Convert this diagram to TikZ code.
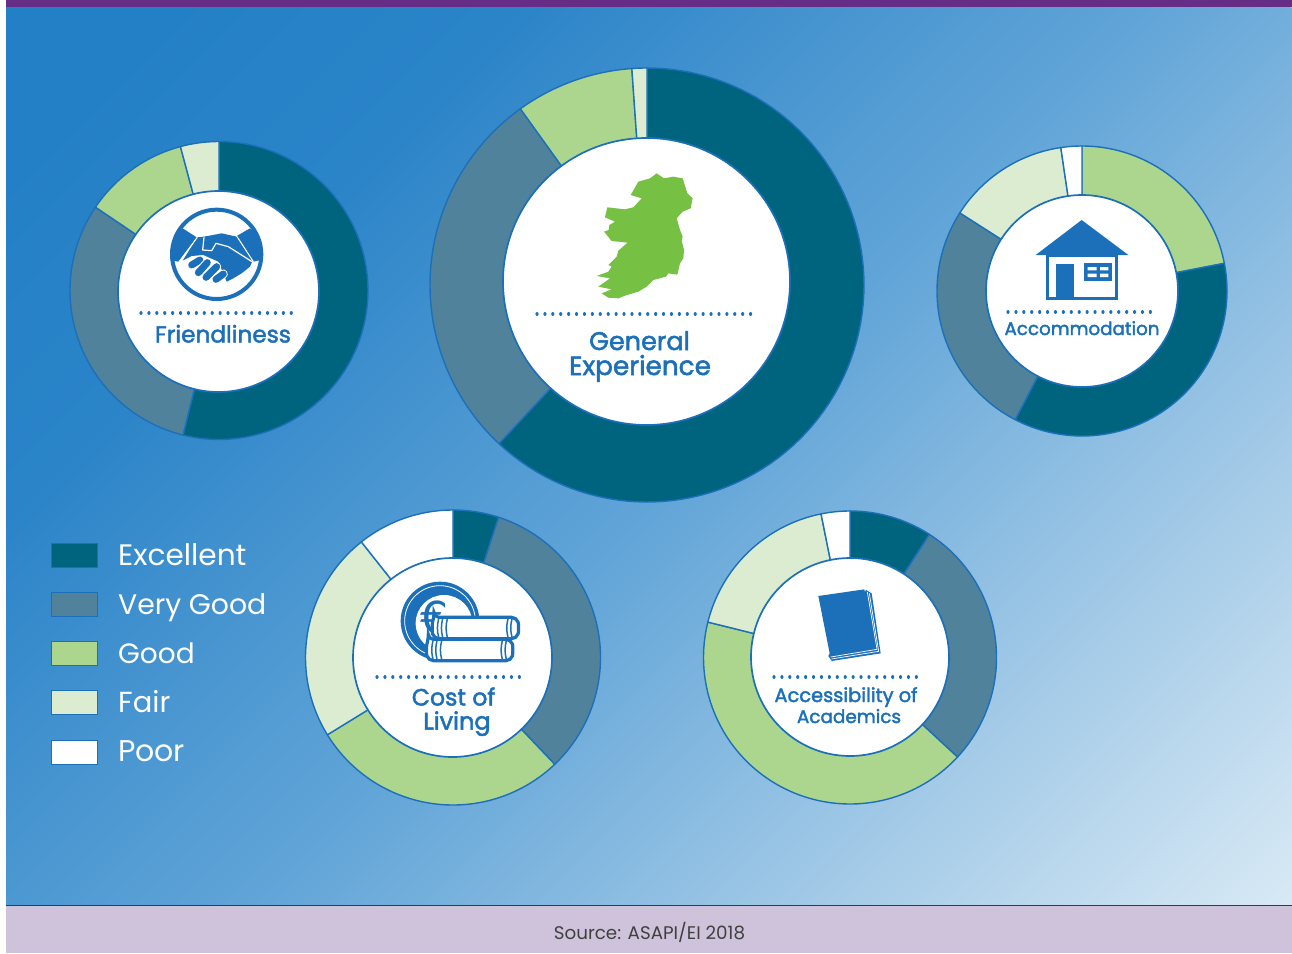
\documentclass[tikz,border=0pt]{standalone}
\usepackage{fontspec}
\setmainfont{Poppins}
\newfontfamily\lab[FakeBold=2]{Poppins}
\newfontfamily\eur{DejaVu Sans}
\definecolor{cexc}{HTML}{00647F}
\definecolor{cvg}{HTML}{50829C}
\definecolor{cgood}{HTML}{ACD68D}
\definecolor{cfair}{HTML}{DBECD0}
\definecolor{cblue}{HTML}{1C70BA}
\definecolor{cgreen}{HTML}{76C043}
\definecolor{cpurple}{HTML}{662D86}
\definecolor{cband}{HTML}{CFC3DB}
\definecolor{g0}{HTML}{2480C6}
\definecolor{g1}{HTML}{2B84C8}
\definecolor{g2}{HTML}{62A5D8}
\definecolor{g3}{HTML}{A3CAE7}
\definecolor{g4}{HTML}{D8E9F5}
\pgfdeclarehorizontalshading{bgsh}{100bp}{
 color(0bp)=(g0);
 color(20bp)=(g0);
 color(31bp)=(g1);
 color(52bp)=(g2);
 color(70bp)=(g3);
 color(85.4bp)=(g4);
 color(100bp)=(g4)}
\tikzset{
 ringline/.style={draw=cblue,line width=1.4pt,line join=round},
 hub/.style={circle,draw=cblue,line width=1.7pt,fill=white,inner sep=0pt},
 dotrule/.style={draw=cblue,line width=3.2pt,line cap=round,dash pattern=on 0.01pt off 7.9pt},
 lbl/.style={text=cblue,inner sep=0pt,anchor=base},
 swatch/.style={draw=cblue,line width=1pt,minimum width=46pt,minimum height=24pt,inner sep=0pt},
 legtxt/.style={text=white,anchor=base west,inner sep=0pt},
 zm/.style={x=0.33333pt,y=-0.33333pt}
}
% \wedgeseg{cx}{cy}{R}{from}{to}{colour}: angles clockwise from top
\newcommand{\wedgeseg}[6]{%
 \pgfmathsetmacro{\sa}{#4-90}\pgfmathsetmacro{\ea}{#5-90}%
 \draw[ringline,fill=#6] (#1,#2) -- plot[domain=\sa:\ea,samples=90] ({#1+#3*cos(\x)},{#2+#3*sin(\x)}) -- cycle;}
\begin{document}
\begin{tikzpicture}[x=1pt,y=-1pt]
\useasboundingbox (0,0) rectangle (1292,953);
\fill[white] (0,0) rectangle (1292,953);
% background
\shade[shading=bgsh,shading angle=-45] (6,7) rectangle (1291.5,905);
\fill[cpurple] (6,0) rectangle (1292,7);
\fill[cband] (6,905) rectangle (1291.5,953);
\draw[cpurple!80!black,line width=0.8pt] (6,905) -- (1292,905);
% Friendliness
\wedgeseg{219}{290.5}{149}{0}{194}{cexc}
\wedgeseg{219}{290.5}{149}{194}{304}{cvg}
\wedgeseg{219}{290.5}{149}{304}{345}{cgood}
\wedgeseg{219}{290.5}{149}{345}{360}{cfair}
\node[hub,minimum size=201pt] (hubF) at (218.5,291.5) {};
% General
\wedgeseg{647}{285}{217}{0}{223}{cexc}
\wedgeseg{647}{285}{217}{223}{324.3}{cvg}
\wedgeseg{647}{285}{217}{324.3}{356}{cgood}
\wedgeseg{647}{285}{217}{356}{360}{cfair}
\node[hub,minimum size=287pt] (hubG) at (646.5,281.5) {};
% Accommodation
\wedgeseg{1082}{291}{145}{0}{79}{cgood}
\wedgeseg{1082}{291}{145}{79}{207.4}{cexc}
\wedgeseg{1082}{291}{145}{207.4}{302.6}{cvg}
\wedgeseg{1082}{291}{145}{302.6}{351.6}{cfair}
\wedgeseg{1082}{291}{145}{351.6}{360}{white}
\node[hub,minimum size=192pt] (hubH) at (1082,291) {};
% Cost of living
\wedgeseg{453}{657.5}{147.5}{0}{18}{cexc}
\wedgeseg{453}{657.5}{147.5}{18}{136.4}{cvg}
\wedgeseg{453}{657.5}{147.5}{136.4}{238.4}{cgood}
\wedgeseg{453}{657.5}{147.5}{238.4}{321.6}{cfair}
\wedgeseg{453}{657.5}{147.5}{321.6}{360}{white}
\node[hub,minimum size=199pt] (hubC) at (452.5,657.5) {};
% Academics
\wedgeseg{850}{657.5}{146.5}{0}{32.8}{cexc}
\wedgeseg{850}{657.5}{146.5}{32.8}{132.8}{cvg}
\wedgeseg{850}{657.5}{146.5}{132.8}{284}{cgood}
\wedgeseg{850}{657.5}{146.5}{284}{348.6}{cfair}
\wedgeseg{850}{657.5}{146.5}{348.6}{360}{white}
\node[hub,minimum size=198pt] (hubA) at (850,657) {};
% dotted rules
\draw[dotrule] (141,313) -- (297,313);
\draw[dotrule] (537,314) -- (756,314);
\draw[dotrule] (1008,312) -- (1155,312);
\draw[dotrule] (377,677) -- (524,677);
\draw[dotrule] (774,677) -- (921,677);
% labels
\node[lbl,font=\lab\fontsize{23.2}{25}\selectfont] (tF) at (223,342.5) {Friendliness};
\node[lbl,font=\lab\fontsize{25.5}{29}\selectfont] (tG1) at (639.5,350) {General};
\node[lbl,font=\lab\fontsize{26.3}{29}\selectfont] (tG2) at (640,375) {Experience};
\node[lbl,font=\lab\fontsize{18.3}{22}\selectfont] (tH) at (1082,335) {Accommodation};
\node[lbl,font=\lab\fontsize{23.6}{26}\selectfont] (tC1) at (453.5,705.5) {Cost of};
\node[lbl,font=\lab\fontsize{24}{26}\selectfont] (tC2) at (457,729.5) {Living};
\node[lbl,font=\lab\fontsize{19.4}{22}\selectfont] (tA1) at (846,702) {Accessibility of};
\node[lbl,font=\lab\fontsize{18.4}{22}\selectfont] (tA2) at (849,723) {Academics};
% legend
\node[swatch,fill=cexc] (s1) at (74,555) {};
\node[swatch,fill=cvg] (s2) at (74,604) {};
\node[swatch,fill=cgood] (s3) at (74,653) {};
\node[swatch,fill=cfair] (s4) at (74,702) {};
\node[swatch,fill=white] (s5) at (74,752) {};
\node[legtxt,font=\fontsize{29.6}{31}\selectfont] (l1) at (118,565.5) {Excellent};
\node[legtxt,font=\fontsize{28.3}{31}\selectfont] (l2) at (118,614.5) {Very Good};
\node[legtxt,font=\fontsize{28}{31}\selectfont] (l3) at (118,663.5) {Good};
\node[legtxt,font=\fontsize{29}{31}\selectfont] (l4) at (118,712.5) {Fair};
\node[legtxt,font=\fontsize{30}{31}\selectfont] (l5) at (118,761.5) {Poor};
\node[inner sep=0pt,anchor=base,text=black!75,font=\fontsize{18.3}{19}\selectfont] (src) at (649.5,939) {Source: ASAPI/EI 2018};
% handshake
\begin{scope}[shift={(60,130)},zm]
 \draw[cblue,line width=4pt,fill=white] (470,373) circle (134);
 \begin{scope}
  \clip (470,373) circle (134);
  \fill[cblue] (330,330) -- (368,295) -- (410,322) -- (355,395) -- (330,390) -- cycle;
  \fill[cblue] (530,318) -- (570,295) -- (612,335) -- (612,388) -- (580,395) -- cycle;
 \end{scope}
 \fill[cblue] (412,322) -- (432,320) -- (485,310) -- (530,320) -- (578,392) -- (570,410) -- (545,430) -- (520,445) -- (500,455) -- (490,430) -- (475,395) -- (430,375) -- (395,378) -- (368,392) -- cycle;
 \draw[white,line width=1.2pt,line join=round] (432,322) -- (428,360) -- (455,362) -- (468,340) -- (505,350) -- (576,395);
 \draw[white,line width=1pt] (412,322) -- (358,395);
 \draw[white,line width=1pt] (530,318) -- (580,395);
 \foreach \a/\b/\c/\d in {420/390/395/405, 442/398/415/428, 470/410/438/442, 490/432/468/448}{
  \draw[white,line width=9pt,line cap=round] (\a,\b) -- (\c,\d);
  \draw[cblue,line width=7pt,line cap=round] (\a,\b) -- (\c,\d);
 }
\end{scope}
% Ireland
\begin{scope}[shift={(500,130)},zm]
 \fill[cgreen] (470,130) -- (492,145) -- (520,140) -- (548,145) -- (562,190) -- (578,205) -- (572,235) -- (548,245) -- (530,265) -- (540,300) -- (548,320) -- (545,332) -- (552,360) -- (550,385) -- (540,400) -- (532,434) -- (505,430) -- (498,440) -- (460,450) -- (440,470) -- (415,485) -- (375,497) -- (355,505) -- (325,503) -- (305,490) -- (335,478) -- (295,470) -- (330,445) -- (290,438) -- (325,425) -- (335,410) -- (325,405) -- (350,380) -- (355,362) -- (383,338) -- (335,333) -- (312,305) -- (326,300) -- (328,285) -- (345,275) -- (315,262) -- (322,232) -- (375,238) -- (400,232) -- (425,205) -- (392,195) -- (415,155) -- (450,145) -- cycle;
\end{scope}
% house
\begin{scope}[shift={(980,140)},zm]
 \fill[cblue] (305,240) -- (445,345) -- (167,345) -- cycle;
 \draw[cblue,line width=3.3pt,fill=white] (203,345) rectangle (409,475);
 \fill[cblue] (228,372) rectangle (282,475);
 \fill[cblue] (311,369) rectangle (395,423);
 \fill[white] (323,381) rectangle (350,391) (360,381) rectangle (385,391) (323,401) rectangle (350,411) (360,401) rectangle (385,411);
\end{scope}
% coins
\begin{scope}[shift={(360,560)},zm]
 \fill[cblue] (240,183) circle (118);
 \draw[white,line width=0.8pt] (240,183) circle (106);
 \fill[white] (252,190) circle (85);
 \node[inner sep=0pt,text=cblue,font=\eur\fontsize{44}{44}\selectfont] (euro) at (222,172) {€};
 \foreach \yy/\xs in {172/222,238/205}{
  \begin{scope}[shift={(\xs,\yy)}]
   \draw[cblue,line width=3.2pt,fill=white,rounded corners=5pt] (0,0) -- (248,0) .. controls (254,20) and (254,44) .. (248,64) -- (0,64) .. controls (-6,44) and (-6,20) .. (0,0) -- cycle;
   \foreach \v in {14,26,40,222,234}{
    \draw[cblue,line width=1.5pt] (\v,4) .. controls (\v-5,24) and (\v-5,40) .. (\v,60);
   }
  \end{scope}
 }
\end{scope}
% book
\begin{scope}[shift={(760,560)},zm]
 \fill[cblue] (318,90) -- (335,100) -- (362,280) -- (215,303) -- (205,288) -- cycle;
 \draw[white,line width=0.7pt] (322,96) -- (351,268) -- (212,291);
 \draw[white,line width=0.7pt] (328,100) -- (356,274) -- (214,297);
 \fill[cblue] (175,108) -- (313,88) -- (347,262) -- (210,285) -- cycle;
\end{scope}
\end{tikzpicture}
\end{document}
